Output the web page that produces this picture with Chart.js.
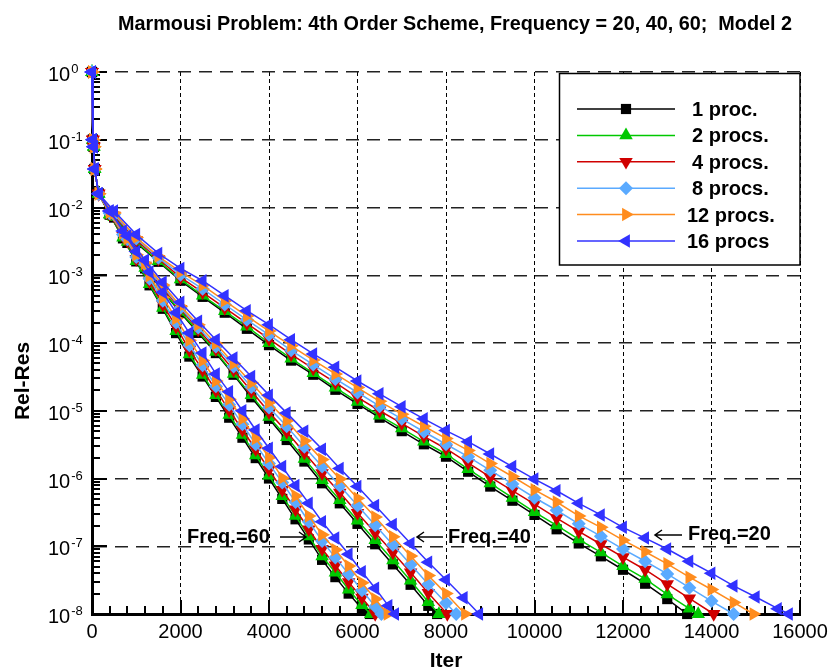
<!DOCTYPE html>
<html>
<head>
<meta charset="utf-8">
<script src="https://cdn.jsdelivr.net/npm/chart.js@4.4.1/dist/chart.umd.min.js"></script>
<style>
  html, body { margin: 0; padding: 0; background: #fff; }
</style>
</head>
<body>
<canvas id="chart" width="829" height="671"></canvas>
<script>
// texts
const titleText = 'Marmousi Problem: 4th Order Scheme, Frequency = 20, 40, 60;  Model 2';
const xTitle = 'Iter';
const yTitle = 'Rel-Res';
const xTicks = [0, 2000, 4000, 6000, 8000, 10000, 12000, 14000, 16000];
const yTicks = [1e0, 1e-1, 1e-2, 1e-3, 1e-4, 1e-5, 1e-6, 1e-7, 1e-8];
const procLabels = ['1 proc.', '2 procs.', '4 procs.', '8 procs.', '12 procs.', '16 procs'];
const freqLabels = ['Freq.=20', 'Freq.=40', 'Freq.=60'];

// first few iterations, same for every run
const headIter = [0, 20, 40, 60, 150];
const headRes = [1, 0.1, 0.079, 0.037, 0.016];
const endRes = 1e-8;

// Freq = 20
const iter20 = [500, 1000, 1500, 2000, 2500, 3000, 3500, 4000, 4500, 5000, 5500, 6000, 6500, 7000, 7500, 8000,
  8500, 9000, 9500, 10000, 10500, 11000, 11500, 12000, 12500, 13000, 13500, 14000, 14500, 15000, 15500];
const p1_f20 = [7.1e-3, 3.0e-3, 1.58e-3, 8.3e-4, 4.8e-4, 2.8e-4, 1.62e-4, 9.3e-5, 5.5e-5, 3.4e-5, 2.04e-5, 1.26e-5,
  7.9e-6, 5.0e-6, 3.2e-6, 2.1e-6, 1.26e-6, 7.6e-7, 4.7e-7, 2.9e-7, 1.78e-7, 1.1e-7, 7.1e-8, 4.5e-8, 2.8e-8, 1.66e-8];
const p2_f20 = [7.2e-3, 3.1e-3, 1.62e-3, 8.7e-4, 5.0e-4, 2.95e-4, 1.74e-4, 1.0e-4, 5.9e-5, 3.6e-5, 2.2e-5, 1.35e-5,
  8.5e-6, 5.5e-6, 3.5e-6, 2.3e-6, 1.38e-6, 8.5e-7, 5.2e-7, 3.2e-7, 2.04e-7, 1.26e-7, 8.1e-8, 5.1e-8, 3.3e-8, 1.95e-8, 1.2e-8];
const p4_f20 = [7.6e-3, 3.3e-3, 1.74e-3, 9.3e-4, 5.6e-4, 3.3e-4, 1.95e-4, 1.15e-4, 6.8e-5, 4.2e-5, 2.6e-5, 1.58e-5,
  1.0e-5, 6.5e-6, 4.2e-6, 2.75e-6, 1.7e-6, 1.05e-6, 6.6e-7, 4.2e-7, 2.6e-7, 1.66e-7, 1.07e-7, 6.9e-8, 4.5e-8, 2.75e-8, 1.7e-8];
const p8_f20 = [7.9e-3, 3.5e-3, 1.82e-3, 1.02e-3, 6.3e-4, 3.7e-4, 2.2e-4, 1.32e-4, 7.8e-5, 4.8e-5, 2.95e-5, 1.86e-5,
  1.17e-5, 7.6e-6, 4.9e-6, 3.2e-6, 2.1e-6, 1.32e-6, 8.3e-7, 5.2e-7, 3.4e-7, 2.14e-7, 1.41e-7, 9.1e-8, 6.0e-8, 3.9e-8,
  2.45e-8, 1.55e-8];
const p12_f20 = [8.3e-3, 3.6e-3, 1.9e-3, 1.12e-3, 7.1e-4, 4.2e-4, 2.5e-4, 1.5e-4, 9.1e-5, 5.6e-5, 3.5e-5, 2.2e-5,
  1.38e-5, 8.9e-6, 5.9e-6, 3.9e-6, 2.6e-6, 1.66e-6, 1.07e-6, 6.8e-7, 4.5e-7, 2.8e-7, 1.9e-7, 1.23e-7, 8.3e-8, 5.5e-8,
  3.5e-8, 2.3e-8, 1.48e-8];
const p16_f20 = [8.9e-3, 4.0e-3, 2.1e-3, 1.26e-3, 8.3e-4, 5.0e-4, 3.0e-4, 1.86e-4, 1.12e-4, 6.9e-5, 4.4e-5, 2.75e-5,
  1.78e-5, 1.15e-5, 7.6e-6, 5.1e-6, 3.5e-6, 2.3e-6, 1.5e-6, 9.8e-7, 6.6e-7, 4.3e-7, 2.9e-7, 1.9e-7, 1.32e-7, 9.1e-8,
  6.0e-8, 4.0e-8, 2.6e-8, 1.78e-8, 1.2e-8];
const end20 = [13450, 13700, 14050, 14500, 14950, 15750];

// Freq = 40
const iter40 = [400, 800, 1200, 1600, 2000, 2400, 2800, 3200, 3600, 4000, 4400, 4800, 5200, 5600, 6000, 6400,
  6800, 7200, 7600, 8000, 8400];
const p1_f40 = [7.9e-3, 3.0e-3, 1.26e-3, 5.8e-4, 2.8e-4, 1.41e-4, 7.1e-5, 3.4e-5, 1.58e-5, 7.6e-6, 3.7e-6, 1.78e-6,
  8.5e-7, 4.3e-7, 2.14e-7, 1.07e-7, 5.4e-8, 2.7e-8, 1.32e-8];
const p2_f40 = [7.9e-3, 3.1e-3, 1.29e-3, 5.9e-4, 2.9e-4, 1.48e-4, 7.4e-5, 3.5e-5, 1.7e-5, 8.1e-6, 4.1e-6, 1.95e-6,
  9.5e-7, 4.8e-7, 2.4e-7, 1.23e-7, 6.2e-8, 3.1e-8, 1.5e-8];
const p4_f40 = [8.1e-3, 3.2e-3, 1.38e-3, 6.3e-4, 3.2e-4, 1.58e-4, 8.1e-5, 4.0e-5, 1.95e-5, 9.5e-6, 4.9e-6, 2.4e-6,
  1.2e-6, 6.2e-7, 3.1e-7, 1.58e-7, 8.1e-8, 4.1e-8, 2.04e-8];
const p8_f40 = [8.3e-3, 3.4e-3, 1.45e-3, 6.8e-4, 3.3e-4, 1.7e-4, 8.9e-5, 4.5e-5, 2.24e-5, 1.12e-5, 5.9e-6, 2.95e-6,
  1.5e-6, 7.8e-7, 4.0e-7, 2.04e-7, 1.05e-7, 5.4e-8, 2.75e-8, 1.45e-8];
const p12_f40 = [8.5e-3, 3.5e-3, 1.5e-3, 7.2e-4, 3.5e-4, 1.86e-4, 9.8e-5, 5.0e-5, 2.6e-5, 1.32e-5, 7.1e-6, 3.6e-6,
  1.9e-6, 9.8e-7, 5.1e-7, 2.7e-7, 1.38e-7, 7.2e-8, 3.7e-8, 2.0e-8];
const p16_f40 = [8.9e-3, 3.8e-3, 1.66e-3, 7.9e-4, 4.0e-4, 2.1e-4, 1.12e-4, 6.0e-5, 3.2e-5, 1.7e-5, 9.3e-6, 5.0e-6,
  2.7e-6, 1.41e-6, 7.6e-7, 4.0e-7, 2.1e-7, 1.1e-7, 5.8e-8, 3.2e-8, 1.74e-8];
const end40 = [7800, 7840, 8030, 8230, 8430, 8750];

// Freq = 60
const iter60 = [400, 700, 1000, 1300, 1600, 1900, 2200, 2500, 2800, 3100, 3400, 3700, 4000, 4300, 4600, 4900,
  5200, 5500, 5800, 6100, 6400, 6700];
const p1_f60 = [7.9e-3, 3.5e-3, 1.6e-3, 7.1e-4, 3.2e-4, 1.4e-4, 6.3e-5, 3.2e-5, 1.6e-5, 7.9e-6, 4.0e-6, 2.0e-6,
  1.0e-6, 5.0e-7, 2.5e-7, 1.26e-7, 6.3e-8, 3.5e-8, 2.0e-8, 1.2e-8];
const p2_f60 = [7.9e-3, 3.6e-3, 1.62e-3, 7.4e-4, 3.3e-4, 1.5e-4, 6.8e-5, 3.4e-5, 1.7e-5, 8.7e-6, 4.4e-6, 2.2e-6,
  1.1e-6, 5.5e-7, 2.8e-7, 1.4e-7, 7.1e-8, 4.1e-8, 2.3e-8, 1.35e-8];
const p4_f60 = [8.1e-3, 3.8e-3, 1.74e-3, 8.1e-4, 3.7e-4, 1.74e-4, 7.9e-5, 4.0e-5, 2.0e-5, 1.02e-5, 5.2e-6, 2.7e-6,
  1.35e-6, 6.8e-7, 3.5e-7, 1.78e-7, 9.1e-8, 5.2e-8, 2.95e-8, 1.74e-8];
const p8_f60 = [8.3e-3, 4.0e-3, 1.86e-3, 8.9e-4, 4.2e-4, 2.0e-4, 9.3e-5, 4.7e-5, 2.3e-5, 1.23e-5, 6.3e-6, 3.2e-6,
  1.66e-6, 8.7e-7, 4.5e-7, 2.3e-7, 1.2e-7, 6.8e-8, 3.9e-8, 2.24e-8, 1.29e-8];
const p12_f60 = [8.5e-3, 4.2e-3, 2.0e-3, 9.8e-4, 4.7e-4, 2.3e-4, 1.1e-4, 5.5e-5, 2.75e-5, 1.48e-5, 7.6e-6, 3.9e-6,
  2.04e-6, 1.02e-6, 5.5e-7, 2.8e-7, 1.48e-7, 8.9e-8, 5.1e-8, 2.9e-8, 1.66e-8];
const p16_f60 = [8.9e-3, 4.5e-3, 2.24e-3, 1.12e-3, 5.6e-4, 2.8e-4, 1.4e-4, 7.1e-5, 3.5e-5, 1.9e-5, 1.0e-5, 5.2e-6,
  2.8e-6, 1.5e-6, 7.9e-7, 4.3e-7, 2.3e-7, 1.32e-7, 7.6e-8, 4.2e-8, 2.4e-8, 1.32e-8];
const end60 = [6280, 6300, 6400, 6540, 6680, 6850];

// look of each processor count
const procColors = ['#000000', '#00c800', '#d00000', '#5aaaff', '#ff8c1e', '#3232ff'];
const procMarks = ['rect', 'triangle', 'triangle', 'rectRot', 'triangle', 'triangle'];
const procRot = [0, 0, 180, 0, 90, -90];
const procSize = [7.2, 7.8, 7.8, 7, 7.8, 7.8];

const FONT = '"Liberation Sans", Arial, Helvetica, sans-serif';

const groups = [
  { iter: iter20, runs: [p1_f20, p2_f20, p4_f20, p8_f20, p12_f20, p16_f20], ends: end20 },
  { iter: iter40, runs: [p1_f40, p2_f40, p4_f40, p8_f40, p12_f40, p16_f40], ends: end40 },
  { iter: iter60, runs: [p1_f60, p2_f60, p4_f60, p8_f60, p12_f60, p16_f60], ends: end60 }
];

const datasets = [];
groups.forEach(function (g) {
  g.runs.forEach(function (vals, p) {
    const pts = headIter.map(function (it, i) { return { x: it, y: headRes[i] }; });
    vals.forEach(function (v, i) { pts.push({ x: g.iter[i], y: v }); });
    pts.push({ x: g.ends[p], y: endRes });
    datasets.push({
      label: procLabels[p],
      data: pts,
      borderColor: procColors[p],
      backgroundColor: procColors[p],
      borderWidth: 1.5,
      pointStyle: procMarks[p],
      pointRotation: procRot[p],
      pointRadius: procSize[p],
      pointBorderWidth: 0,
      tension: 0,
      fill: false,
      clip: 8,
      order: 5 - p
    });
  });
});

function arrow(ctx, x1, x2, y) {
  const d = x2 > x1 ? -1 : 1;
  ctx.beginPath();
  ctx.moveTo(x1, y);
  ctx.lineTo(x2, y);
  ctx.moveTo(x2 + d * 7, y - 5);
  ctx.lineTo(x2, y);
  ctx.lineTo(x2 + d * 7, y + 5);
  ctx.stroke();
}

const decor = {
  id: 'decor',
  beforeDatasetsDraw(chart) {
    const ctx = chart.ctx;
    const a = chart.chartArea;
    const x = chart.scales.x, y = chart.scales.y;
    ctx.save();
    ctx.strokeStyle = '#000';
    ctx.lineWidth = 2;
    ctx.beginPath();
    // ticks inside the plot
    for (let v = 0; v <= 16000; v += 400) {
      const px = Math.round(x.getPixelForValue(v));
      const len = v % 2000 === 0 ? 14 : 8;
      ctx.moveTo(px, a.bottom);
      ctx.lineTo(px, a.bottom - len);
    }
    for (let e = -8; e <= 0; e++) {
      for (let m = 1; m < 10; m++) {
        if (e === 0 && m > 1) break;
        const py = Math.round(y.getPixelForValue(m * Math.pow(10, e)));
        const len = m === 1 ? 15 : 8;
        ctx.moveTo(a.left, py);
        ctx.lineTo(a.left + len, py);
      }
    }
    ctx.stroke();
    ctx.restore();
  },
  afterDraw(chart) {
    const ctx = chart.ctx;
    const a = chart.chartArea;
    const x = chart.scales.x, y = chart.scales.y;
    ctx.save();
    ctx.fillStyle = '#000';

    // title, narrow bold face
    ctx.font = 'bold 20px ' + FONT;
    ctx.textAlign = 'left';
    ctx.textBaseline = 'alphabetic';
    const tw = ctx.measureText(titleText).width;
    ctx.save();
    ctx.translate(118, 30);
    ctx.scale(674 / tw, 1);
    ctx.fillText(titleText, 0, 0);
    ctx.restore();

    // x tick labels
    ctx.font = '20px ' + FONT;
    ctx.textAlign = 'center';
    xTicks.forEach(function (v) {
      ctx.fillText(String(v), x.getPixelForValue(v), 638);
    });

    // y tick labels 10^n
    yTicks.forEach(function (v) {
      const py = y.getPixelForValue(v);
      const ex = Math.round(Math.log10(v));
      ctx.font = '20px ' + FONT;
      ctx.textAlign = 'left';
      ctx.fillText('10', 48, py + 9);
      const w = ctx.measureText('10').width;
      ctx.font = '13px ' + FONT;
      ctx.fillText(String(ex), 48 + w + 1, py + 1);
    });

    // axis titles
    ctx.font = 'bold 21px ' + FONT;
    ctx.textAlign = 'center';
    ctx.fillText(xTitle, (a.left + a.right) / 2, 667);
    ctx.save();
    ctx.translate(29, 381);
    ctx.rotate(-Math.PI / 2);
    ctx.fillText(yTitle, 0, 0);
    ctx.restore();

    // frequency notes
    ctx.font = 'bold 20px ' + FONT;
    ctx.textAlign = 'left';
    ctx.strokeStyle = '#000';
    ctx.lineWidth = 1.5;
    ctx.fillText(freqLabels[2], 187, 543);
    arrow(ctx, 280, 306, 537);
    ctx.fillText(freqLabels[1], 448, 543);
    arrow(ctx, 443, 417, 537);
    ctx.fillText(freqLabels[0], 688, 540);
    arrow(ctx, 682, 655, 535);

    // legend box
    ctx.fillStyle = '#fff';
    ctx.fillRect(559, 73, 241, 192);
    ctx.strokeStyle = '#000';
    ctx.lineWidth = 1.5;
    ctx.strokeRect(559.5, 73.5, 240.5, 191.5);
    procLabels.forEach(function (lab, p) {
      const ry = 109 + p * 26.4;
      ctx.strokeStyle = procColors[p];
      ctx.lineWidth = 1.5;
      ctx.beginPath();
      ctx.moveTo(577, ry);
      ctx.lineTo(675, ry);
      ctx.stroke();
      ctx.fillStyle = procColors[p];
      Chart.helpers.drawPoint(ctx, {
        pointStyle: procMarks[p], rotation: procRot[p], radius: procSize[p], borderWidth: 0
      }, 626, ry);
      ctx.fillStyle = '#000';
      ctx.font = 'bold 20px ' + FONT;
      ctx.textAlign = 'left';
      ctx.fillText(lab, lab.length > 8 || lab.indexOf('16') === 0 ? 687 : 692, ry + 7);
    });
    ctx.restore();
  }
};

new Chart(document.getElementById('chart').getContext('2d'), {
  type: 'line',
  data: { datasets: datasets },
  options: {
    responsive: false,
    animation: false,
    events: [],
    layout: { padding: { left: 0, top: 72, right: 29, bottom: 0 } },
    plugins: {
      legend: { display: false },
      title: { display: false },
      tooltip: { enabled: false }
    },
    scales: {
      x: {
        type: 'linear',
        min: 0,
        max: 16000,
        afterBuildTicks: function (s) { s.ticks = xTicks.map(function (v) { return { value: v }; }); },
        afterFit: function (s) { s.height = 57; },
        ticks: { display: false },
        grid: { color: '#000', lineWidth: 1, drawTicks: false },
        border: { display: true, color: '#000', width: 3, dash: [4, 3] }
      },
      y: {
        type: 'logarithmic',
        min: 1e-8,
        max: 1,
        afterBuildTicks: function (s) { s.ticks = yTicks.map(function (v) { return { value: v }; }); },
        afterFit: function (s) { s.width = 92; },
        ticks: { display: false },
        grid: { color: '#222', lineWidth: 1.5, drawTicks: false },
        border: { display: true, color: '#000', width: 3, dash: [13, 8] }
      }
    }
  },
  plugins: [decor]
});
</script>
</body>
</html>
